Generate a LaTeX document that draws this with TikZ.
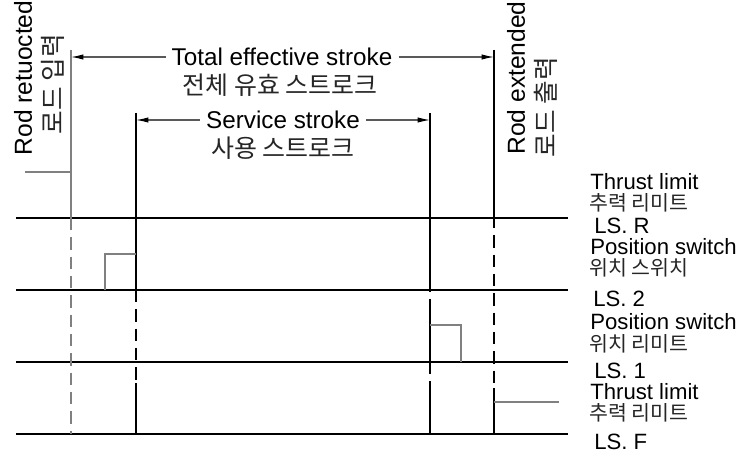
\documentclass[tikz,border=0pt]{standalone}
\usepackage{fontspec}
\setmainfont{Liberation Sans}
\newfontfamily\kr{Noto Sans CJK KR}
\usetikzlibrary{arrows.meta}

\begin{document}
\begin{tikzpicture}[
    x=0.02cm, y=-0.02cm,
    chart/.style={line width=0.6pt},
    sig/.style={gray, line width=1pt},
    guide/.style={line width=0.6pt, dash pattern=on 7pt off 4pt},
    dim/.style={-{Latex[length=7pt,width=3pt,color=black]}, gray!70!black, line width=0.6pt},
    head/.style={font=\fontsize{13.8}{16}\selectfont},
    side/.style={font=\fontsize{14}{16}\selectfont, rotate=90},
    lbl/.style={font=\fontsize{12.6}{14}\selectfont, anchor=west, inner sep=0pt},
    ko/.style={font=\kr\fontsize{14.2}{16}\selectfont, text=black!85},
    koside/.style={font=\kr\fontsize{14.6}{16}\selectfont, text=black!85, rotate=90},
    kolbl/.style={font=\kr\fontsize{11.7}{13}\selectfont, text=black!85, anchor=west, inner sep=0pt}
  ]
  \useasboundingbox (0,0) rectangle (739,459);

  % stroke end points
  \coordinate (ret) at (71,50);
  \coordinate (svl) at (136,113);
  \coordinate (svr) at (430,113);
  \coordinate (ext) at (494,50);

  % dimension labels
  \node[head] (tot) at (282,57) {Total effective stroke};
  \node[ko] (totko) at (280,85) {전체 유효 스트로크};
  \node[head] (srv) at (283,120) {Service stroke};
  \node[ko] (srvko) at (283,148) {사용 스트로크};

  \draw[dim] (tot) -- (tot -| ret);
  \draw[dim] (tot) -- (tot -| ext);
  \draw[dim] (srv) -- (srv -| svl);
  \draw[dim] (srv) -- (srv -| svr);

  % rod positions
  \node[side] (reten) at (23,78) {Rod retuocted};
  \node[koside] (retko) at (53,84) {로드 입력};
  \node[side] (exten) at (516,78) {Rod extended};
  \node[koside] (extko) at (546,107) {로드 출력};

  % signal base lines
  \foreach \y in {218,290,362,434}
    \draw[chart] (16,\y) -- (568,\y);

  % stroke lines
  \draw[chart, gray] (ret) -- (71,218);
  \draw[guide, gray] (71,218) -- (71,434);
  \draw[chart] (svl) -- (136,290);
  \draw[guide] (136,290) -- (136,383);
  \draw[chart] (136,383) -- (136,434);
  \draw[chart] (svr) -- (430,280);
  \draw[guide] (430,280) -- (430,307);
  \draw[chart] (430,307) -- (430,362);
  \draw[guide] (430,362) -- (430,383);
  \draw[chart] (430,383) -- (430,434);
  \draw[chart] (ext) -- (494,216);
  \draw[guide] (494,216) -- (494,388);
  \draw[chart] (494,388) -- (494,434);

  % switch signals
  \draw[sig] (25,172) -| (71,218);
  \draw[sig] (105,290) |- (136,254);
  \draw[sig] (430,325) -| (461,362);
  \draw[sig] (559,402) -- (494,402);

  % switch names
  \node[lbl] (thr) at (590,182) {Thrust limit};
  \node[kolbl] (thrko) at (589,203) {추력 리미트};
  \node[lbl] (lsr) at (594,226) {LS. R};
  \node[lbl] (psr) at (590,247) {Position switch};
  \node[kolbl] (psrko) at (589,268) {위치 스위치};
  \node[lbl] (ls2) at (593,299) {LS. 2};
  \node[lbl] (psf) at (590,322) {Position switch};
  \node[kolbl] (psfko) at (589,344) {위치 리미트};
  \node[lbl] (ls1) at (594,371) {LS. 1};
  \node[lbl] (thf) at (590,392) {Thrust limit};
  \node[kolbl] (thfko) at (589,413) {추력 리미트};
  \node[lbl] (lsf) at (594,442) {LS. F};
\end{tikzpicture}
\end{document}
